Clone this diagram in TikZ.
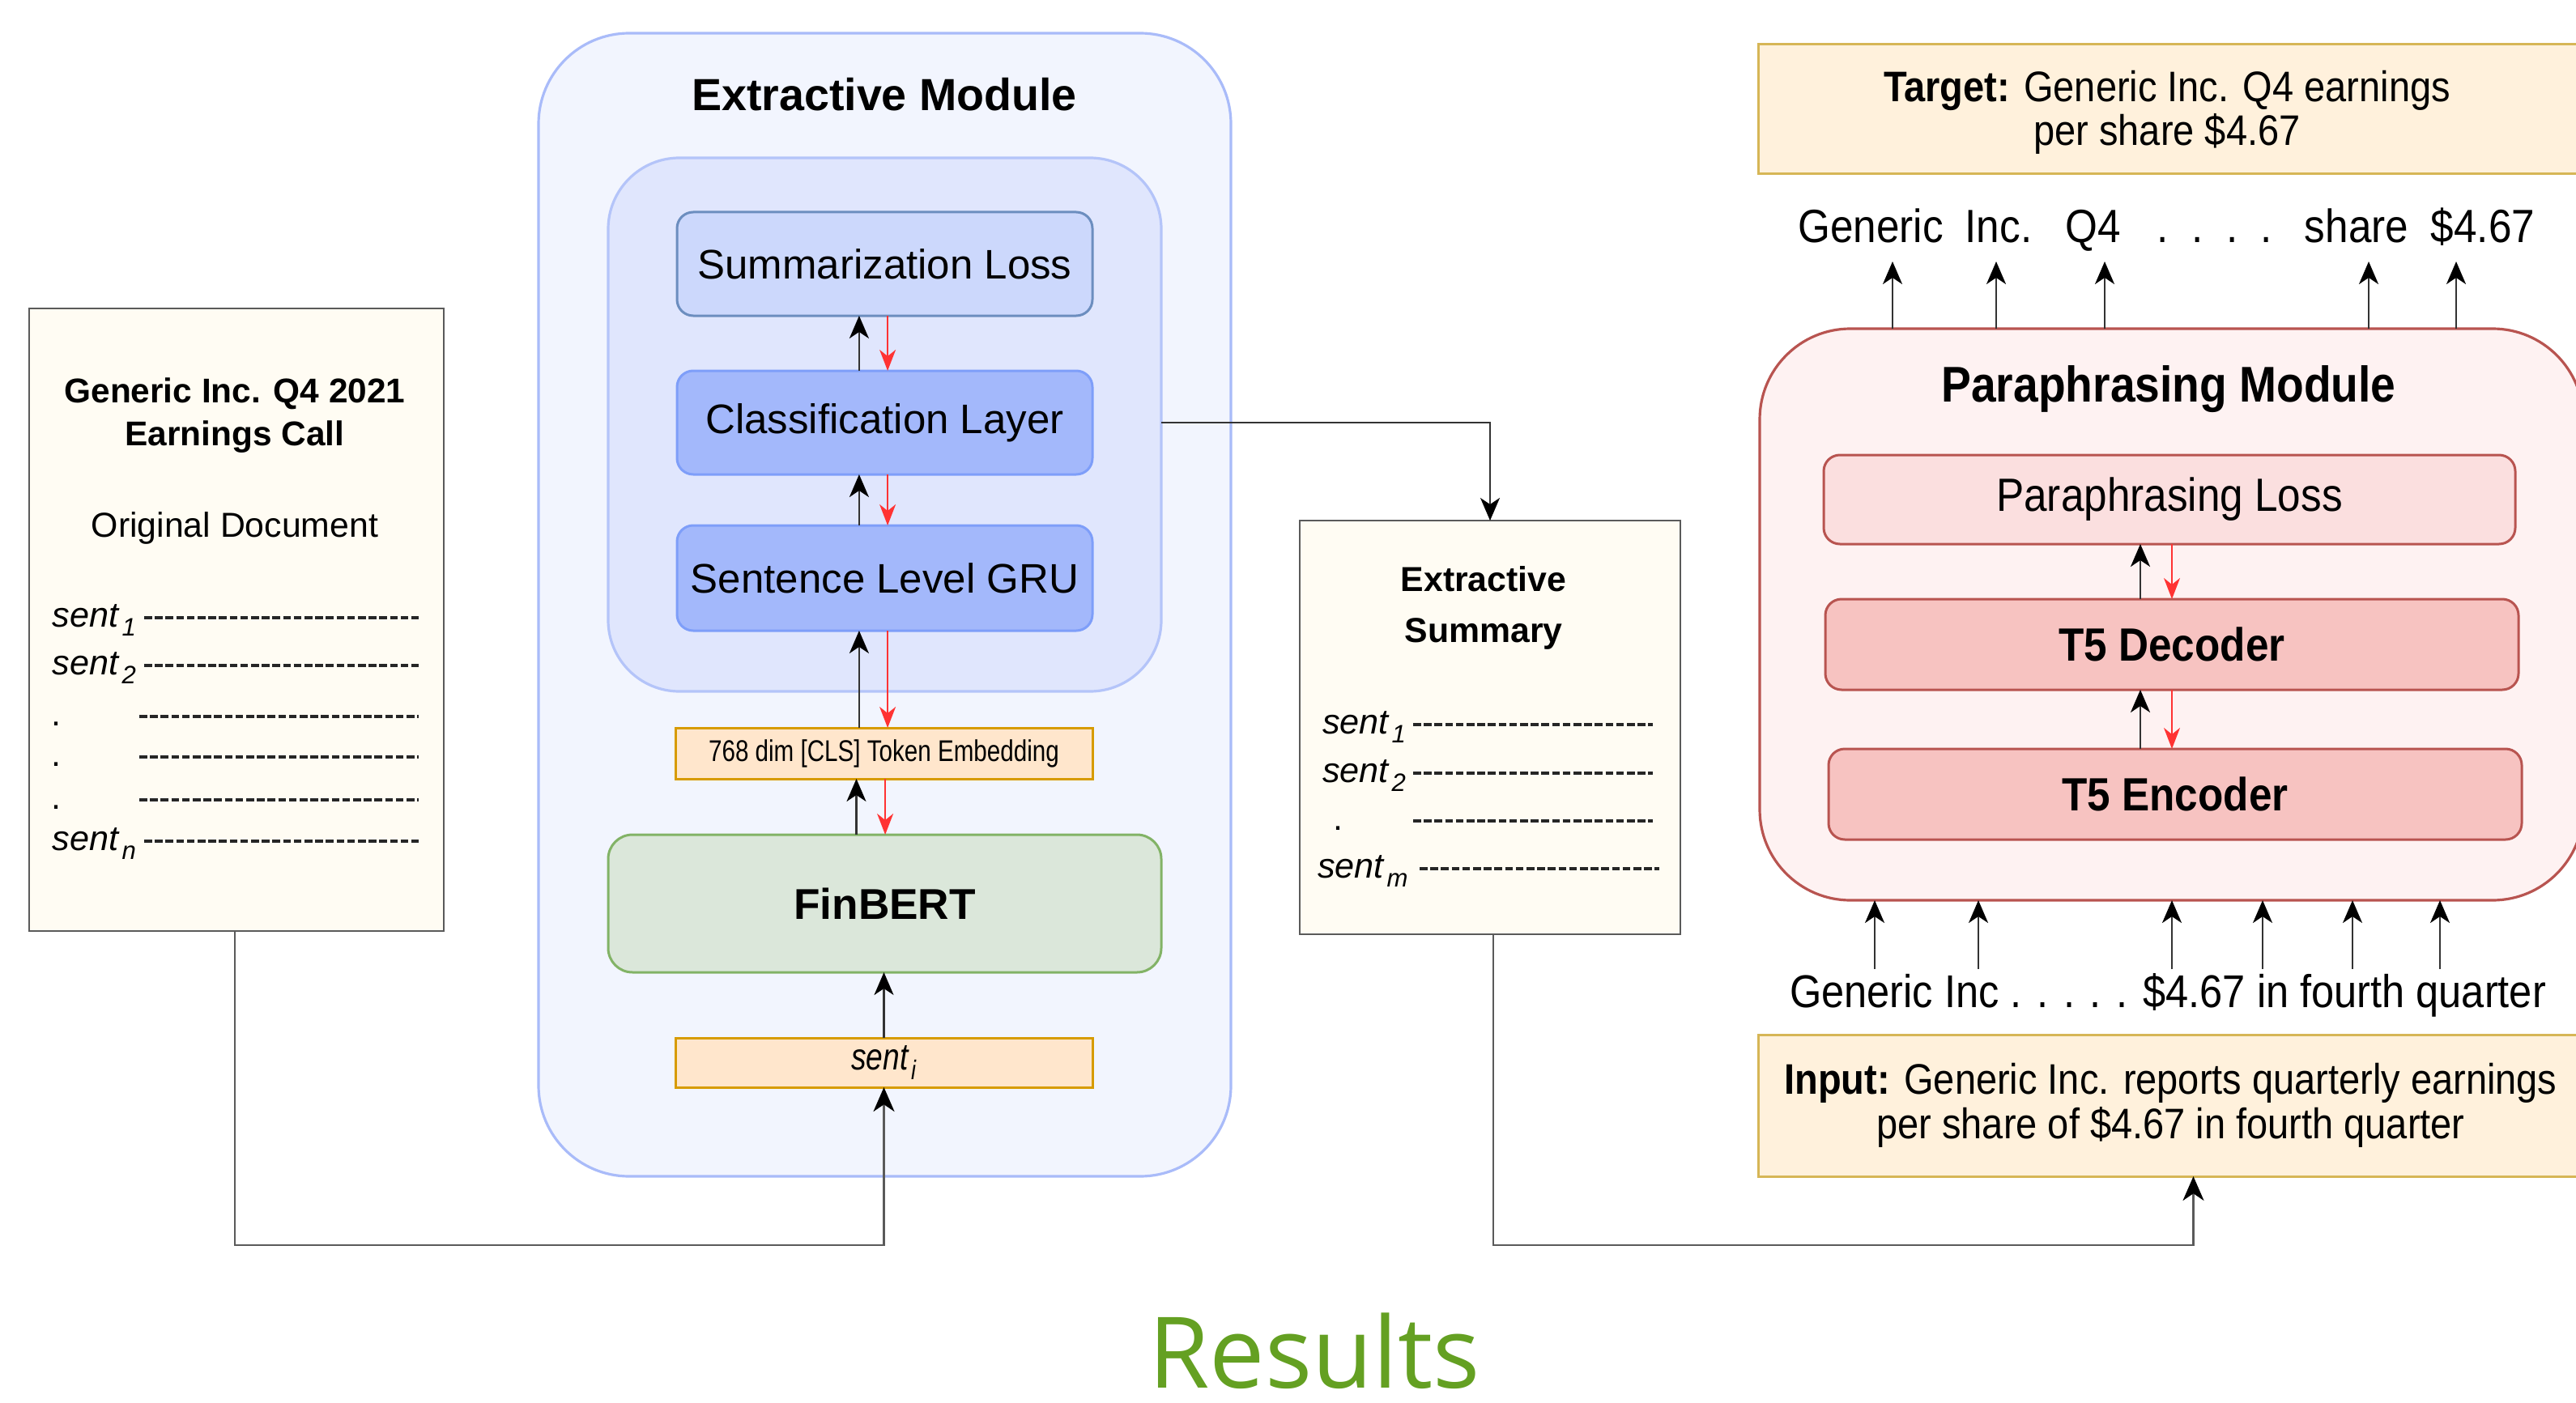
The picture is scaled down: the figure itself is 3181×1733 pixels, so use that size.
\documentclass[tikz,border=0pt]{standalone}
\usepackage{fontspec}
\setmainfont{Liberation Sans}
\newfontfamily\nrw[FakeStretch=0.89]{Liberation Sans}
\newfontfamily\cnd[FakeStretch=0.8]{Liberation Sans}
\newfontfamily\resfont{Open Sans}
\usetikzlibrary{arrows.meta}

\definecolor{docfill}{HTML}{FFFCF3}
\definecolor{docline}{HTML}{5A5A5A}
\definecolor{extoutfill}{HTML}{F2F5FE}
\definecolor{extoutline}{HTML}{A9BBF9}
\definecolor{extinfill}{HTML}{E0E6FD}
\definecolor{extinline}{HTML}{B4C4F9}
\definecolor{lossfill}{HTML}{CCD8FC}
\definecolor{lossline}{HTML}{6C8EBF}
\definecolor{layfill}{HTML}{A3B8FB}
\definecolor{layline}{HTML}{7E9EF9}
\definecolor{orfill}{HTML}{FFE6CC}
\definecolor{orline}{HTML}{D79B00}
\definecolor{finfill}{HTML}{DBE7DA}
\definecolor{finline}{HTML}{82B366}
\definecolor{ylfill}{HTML}{FFF1DC}
\definecolor{ylline}{HTML}{D6B656}
\definecolor{modfill}{HTML}{FEF2F2}
\definecolor{redline}{HTML}{B85450}
\definecolor{plossfill}{HTML}{FBDFDF}
\definecolor{tfivefill}{HTML}{F7C3C1}
\definecolor{backred}{HTML}{FF3333}
\definecolor{resgreen}{HTML}{64A022}

% italic "sent" with a lowered index
\newcommand\snt[1]{\textit{sent}\kern0.6pt\raisebox{-0.5ex}{\scalebox{0.72}{\textit{#1}}}}

\begin{document}
\begin{tikzpicture}[x=0.25pt,y=-0.25pt,
  every node/.style={inner sep=0pt,outer sep=0pt},
  docbox/.style={draw=docline,fill=docfill,line width=0.7pt},
  doctitle/.style={align=center,font=\fontsize{10.6}{13.25}\selectfont\bfseries},
  docsub/.style={font=\fontsize{10.7}{13}\selectfont},
  sentlbl/.style={anchor=base west,font=\fontsize{10.8}{13}\selectfont},
  dashline/.style={draw=black!85,line width=0.8pt,dash pattern=on 2.4pt off 0.9pt},
  modout/.style={draw=extoutline,fill=extoutfill,line width=0.8pt,rounded corners=28pt},
  modin/.style={draw=extinline,fill=extinfill,line width=0.8pt,rounded corners=22pt},
  layerbox/.style={rounded corners=5pt,line width=0.75pt,minimum width=128.25pt,
    font=\fontsize{12.75}{15}\selectfont},
  orbox/.style={draw=orline,fill=orfill,line width=0.75pt,minimum width=128.75pt},
  ylbox/.style={draw=ylline,fill=ylfill,line width=0.75pt,minimum width=254.75pt,
    align=center,font=\nrw\fontsize{13.2}{13.6}\selectfont},
  parabox/.style={draw=redline,rounded corners=5pt,line width=0.75pt,minimum width=214pt,
    minimum height=28pt,font=\nrw\fontsize{14.4}{16}\selectfont},
  token/.style={anchor=base,font=\nrw\fontsize{14.4}{16}\selectfont},
  conn/.style={draw=docline,line width=0.7pt,-{Stealth[length=7.5pt,width=6.5pt,inset=2.2pt,color=black]}},
  barrow/.style={draw=black!80,line width=0.6pt,-{Stealth[length=7pt,width=6pt,inset=2pt,color=black]}},
  rarrow/.style={draw=backred,line width=0.45pt,-{Stealth[length=6.5pt,width=5pt,inset=2pt]}},
]
\useasboundingbox (0,0) rectangle (3181,1733);
\clip (0,0) rectangle (3181,1733);

% ---------------- original document ----------------
\node[docbox,minimum width=128pt,minimum height=192.25pt] (doc) at (292,765.5) {};
\node[doctitle] (doctitle) at (290,513) {Generic Inc. Q4 2021\\Earnings Call};
\node[docsub] (docsub) at (290,652) {Original Document};
\node[sentlbl] (ds1) at (65,774) {\snt{1}};
\node[sentlbl] (ds2) at (65,833) {\snt{2}};
\node[sentlbl] (dd1) at (64,896) {.};
\node[sentlbl] (dd2) at (64,946) {.};
\node[sentlbl] (dd3) at (64,999) {.};
\node[sentlbl] (dsn) at (65,1050) {\snt{n}};
\draw[dashline] (178,763) -- (517,763);
\draw[dashline] (178,822) -- (517,822);
\draw[dashline] (172,885) -- (517,885);
\draw[dashline] (172,935) -- (517,935);
\draw[dashline] (172,988) -- (517,988);
\draw[dashline] (178,1039) -- (517,1039);

% ---------------- extractive module ----------------
\node[modout,minimum width=213.75pt,minimum height=353pt] (extmod) at (1092.5,747) {};
\node[font=\fontsize{13.9}{16}\selectfont\bfseries] (exttitle) at (1092,117) {Extractive Module};
\node[modin,minimum width=170.75pt,minimum height=164.75pt] (extin) at (1092.5,524.5) {};
\node[layerbox,draw=lossline,fill=lossfill,minimum height=32pt] (sloss) at (1092.5,326) {Summarization Loss};
\node[layerbox,draw=layline,fill=layfill,minimum height=32pt] (cls) at (1092.5,522) {Classification Layer};
\node[layerbox,draw=layline,fill=layfill,minimum height=32.5pt] (gru) at (1092.5,714) {Sentence Level GRU};
\node[orbox,minimum height=15.75pt,font=\cnd\fontsize{9.25}{10}\selectfont] (emb) at (1091.5,930.5) {768 dim [CLS] Token Embedding};
\node[draw=finline,fill=finfill,line width=0.75pt,rounded corners=7.5pt,minimum width=170.75pt,
  minimum height=42.5pt,font=\fontsize{13.3}{15}\selectfont\bfseries] (fin) at (1092.5,1116) {FinBERT};
\node[orbox,minimum height=15.25pt,font=\cnd\fontsize{11.6}{12}\selectfont] (senti) at (1091.5,1312.5) {\snt{i}};

% forward (black) and backward (red) flows
\draw[barrow] ([xshift=-7.9pt]cls.north) -- ([xshift=-7.9pt]cls.north |- sloss.south);
\draw[rarrow] ([xshift=0.9pt]sloss.south) -- ([xshift=0.9pt]sloss.south |- cls.north);
\draw[barrow] ([xshift=-7.9pt]gru.north) -- ([xshift=-7.9pt]gru.north |- cls.south);
\draw[rarrow] ([xshift=0.9pt]cls.south) -- ([xshift=0.9pt]cls.south |- gru.north);
\draw[barrow] ([xshift=-7.9pt]gru.south |- emb.north) -- ([xshift=-7.9pt]gru.south);
\draw[rarrow] ([xshift=0.9pt]gru.south) -- ([xshift=0.9pt]gru.south |- emb.north);
\draw[barrow] ([xshift=-8.5pt]emb.south |- fin.north) -- ([xshift=-8.5pt]emb.south);
\draw[rarrow] ([xshift=0.4pt]emb.south) -- ([xshift=0.4pt]emb.south |- fin.north);
\draw[barrow] (senti.north) -- (senti.north |- fin.south);

% ---------------- extractive summary ----------------
\node[docbox,minimum width=117.5pt,minimum height=127.75pt] (summ) at (1840,898.5) {};
\node[doctitle,font=\fontsize{10.7}{15.75}\selectfont\bfseries] (summtitle) at (1832,751) {Extractive\\Summary};
\node[sentlbl] (es1) at (1633,906) {\snt{1}};
\node[sentlbl] (es2) at (1633,966) {\snt{2}};
\node[sentlbl] (ed1) at (1646,1025) {.};
\node[sentlbl] (esm) at (1627,1084) {\snt{m}};
\draw[dashline] (1745,895) -- (2041,895);
\draw[dashline] (1745,955) -- (2041,955);
\draw[dashline] (1745,1014) -- (2041,1014);
\draw[dashline] (1753,1073) -- (2049,1073);

% ---------------- paraphrasing module ----------------
\node[ylbox,minimum height=40pt] (target) at (2680.5,135) {};
\node[align=center,font=\nrw\fontsize{13.2}{13.6}\selectfont] (targettext) at (2676,139)
  {\textbf{Target:} Generic Inc. Q4 earnings\\per share \$4.67};
\node[draw=redline,fill=modfill,line width=0.8pt,rounded corners=28pt,minimum width=254.25pt,
  minimum height=176.5pt] (para) at (2681.5,759) {};
\node[font=\nrw\fontsize{15.5}{17}\selectfont\bfseries] (paratitle) at (2678,481) {Paraphrasing Module};
\node[parabox,fill=plossfill,minimum width=213.5pt,minimum height=27.5pt] (ploss) at (2679,617) {Paraphrasing Loss};
\node[parabox,fill=tfivefill,font=\nrw\fontsize{14.4}{16}\selectfont\bfseries] (dec) at (2682,796) {T5 Decoder};
\node[parabox,fill=tfivefill,font=\nrw\fontsize{14.4}{16}\selectfont\bfseries] (enc) at (2686,981) {T5 Encoder};
\node[ylbox,minimum height=43.75pt] (inp) at (2680.5,1365.5)
  {\textbf{Input:} Generic Inc. reports quarterly earnings\\per share of \$4.67 in fourth quarter};

\draw[barrow] ([xshift=-9.75pt]dec.north) -- ([xshift=-9.75pt]dec.north |- ploss.south);
\draw[rarrow] (dec.north |- ploss.south) -- (dec.north);
\draw[barrow] ([xshift=-9.75pt]dec.south |- enc.north) -- ([xshift=-9.75pt]dec.south);
\draw[rarrow] (dec.south) -- (dec.south |- enc.north);

% output tokens
\node[token] (t1) at (2310,299) {Generic};
\node[token] (t2) at (2468,299) {Inc.};
\node[token] (t3) at (2585,299) {Q4};
\node[token] (t4) at (2735,299) {.\ \ .\ \ .\ \ .};
\node[token] (t5) at (2910,299) {share};
\node[token] (t6) at (3066,299) {\$4.67};
\coordinate (o1) at (2337,323);
\coordinate (o2) at (2465,323);
\coordinate (o3) at (2599,323);
\coordinate (o4) at (2925,323);
\coordinate (o5) at (3033,323);
\foreach \o in {o1,o2,o3,o4,o5} \draw[barrow] (\o |- para.north) -- (\o);

% input tokens
\node[token,font=\nrw\fontsize{14.2}{16}\selectfont] (itok) at (2677,1244) {Generic Inc . . . . . \$4.67 in fourth quarter};
\coordinate (i1) at (2315,1197);
\coordinate (i2) at (2443,1197);
\coordinate (i3) at (2682,1197);
\coordinate (i4) at (2794,1197);
\coordinate (i5) at (2905,1197);
\coordinate (i6) at (3013,1197);
\foreach \i in {i1,i2,i3,i4,i5,i6} \draw[barrow] (\i) -- (\i |- para.south);

% ---------------- connectors between stages ----------------
\draw[conn] ([xshift=-0.5pt]doc.south) -- ++(0,388) -| (senti.south);
\draw[barrow,line width=0.55pt] (cls.east -| extin.east) -| (summ.north);
\draw[conn] ([xshift=1pt]summ.south) -- ++(0,384) -| ([xshift=7pt]inp.south);

% ---------------- caption ----------------
\node[anchor=base,font=\resfont\fontsize{30.5}{32}\selectfont,text=resgreen] (res) at (1623,1714) {Results};
\end{tikzpicture}
\end{document}
